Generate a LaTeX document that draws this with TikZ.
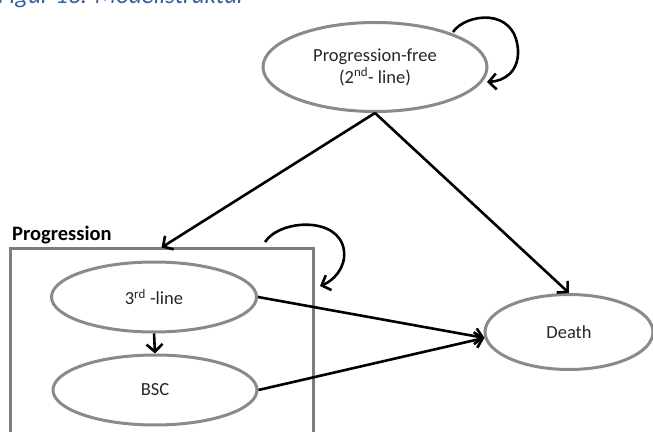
\documentclass[tikz,border=0pt]{standalone}
\usepackage{fontspec}
\setmainfont{Carlito}
\usetikzlibrary{arrows.meta,shapes.geometric}
\definecolor{capblue}{RGB}{54,96,160}
\definecolor{ovalgray}{RGB}{138,138,138}
\definecolor{boxgray}{RGB}{125,125,125}
\begin{document}
\begin{tikzpicture}[x=1pt,y=1pt,
  state/.style={ellipse, draw=ovalgray, line width=3pt, inner sep=0pt, align=center, text=black!85},
  conn/.style={line width=2.6pt, -{Straight Barb[length=7.5pt,width=16pt,line width=2.6pt]}},
  every node/.style={font=\fontsize{18.5}{22}\selectfont}]
\useasboundingbox (0,0) rectangle (653,431);
\clip (0,0) rectangle (653,431);
\node[anchor=base west, text=capblue, font=\fontsize{25}{28}\selectfont\itshape, inner sep=0pt] (cap) at (-2,427) {Figur 13: Modellstruktur};
\node[state, minimum width=224pt, minimum height=89pt] (pfree) at (375,364) {Progression-free\\(2\textsuperscript{nd}- line)};
\node[draw=boxgray, line width=3pt, minimum width=303pt, minimum height=202pt, inner sep=0pt] (progbox) at (161.5,81) {};
\node[anchor=base west, inner sep=0pt, font=\fontsize{20.5}{24}\selectfont\bfseries] (proglabel) at (12,190) {Progression};
\node[state, minimum width=205pt, minimum height=70pt] (third) at (154,134) {3\textsuperscript{rd} -line};
\node[state, minimum width=204pt, minimum height=70pt] (bsc) at (155,41) {BSC};
\node[state, minimum width=168pt, minimum height=75pt] (death) at (569,99) {Death};
\coordinate (l1s) at (453,399);
\coordinate (l1m) at (518,381);
\coordinate (l1e) at (487,349);
\coordinate (l2s) at (265,189);
\coordinate (l2m) at (344,180);
\coordinate (l2e) at (320,145);
\draw[conn] (pfree.south) -- (progbox.north);
\draw[conn] (pfree.south) -- (death.north);
\draw[conn] (third.south) -- (bsc.north);
\draw[conn] (third.east) -- (death.184);
\draw[conn] (bsc.east) -- (death.184);
\draw[conn] (l1s) .. controls (465,417) and (515,425) .. (l1m) .. controls (519,360) and (505,350) .. (l1e);
\draw[conn] (l2s) .. controls (280,212) and (340,215) .. (l2m) .. controls (346,163) and (333,150) .. (l2e);
\end{tikzpicture}
\end{document}
